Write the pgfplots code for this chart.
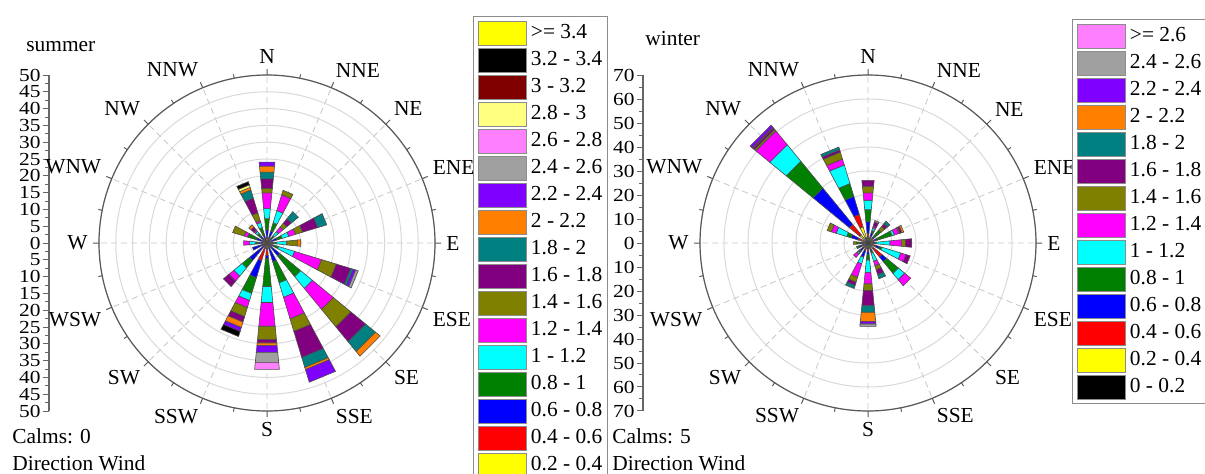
\documentclass[border=0pt]{standalone}
\usepackage{graphicx}
\usepackage{fontspec}
\setmainfont{Liberation Serif}
\newfontfamily\serf{Liberation Serif}
\usepackage{pgfplots}
\pgfplotsset{compat=1.18}
\usepgfplotslibrary{polar}

\definecolor{wc1}{RGB}{0,0,0}
\definecolor{wc2}{RGB}{255,255,0}
\definecolor{wc3}{RGB}{255,0,0}
\definecolor{wc4}{RGB}{0,0,255}
\definecolor{wc5}{RGB}{0,128,0}
\definecolor{wc6}{RGB}{0,255,255}
\definecolor{wc7}{RGB}{255,0,255}
\definecolor{wc8}{RGB}{128,128,0}
\definecolor{wc9}{RGB}{128,0,128}
\definecolor{wc10}{RGB}{0,128,128}
\definecolor{wc11}{RGB}{255,128,0}
\definecolor{wc12}{RGB}{128,0,255}
\definecolor{wc13}{RGB}{160,160,160}
\definecolor{wc14}{RGB}{255,128,255}
\definecolor{wc15}{RGB}{255,255,128}
\definecolor{wc16}{RGB}{128,0,0}
\definecolor{wc17}{RGB}{0,0,0}
\definecolor{wc18}{RGB}{255,255,0}

\newcommand\mainfontsize{\serf\fontsize{10.7}{12.8}\selectfont}
\tikzset{wedge/.style={draw=black!70, line width=0.3pt},
  dirlab/.style={inner sep=0pt, font=\mainfontsize}}

% #1 compass direction (deg, clockwise from N), #2 frequencies per speed class (inner to outer)
\newcommand\windbar[2]{%
  \pgfmathsetmacro\wa{90-#1}%
  \pgfmathsetmacro\wl{\wa-5.6}%
  \pgfmathsetmacro\wr{\wa+5.6}%
  \xdef\wcum{0}%
  \foreach \v [count=\k] in {#2} {%
    \pgfmathsetmacro\wnew{\wcum+\v}%
    \ifdim\v pt>0pt
      \edef\tmp{\noexpand\addplot[forget plot, wedge, fill=wc\k] coordinates {(\wl,\wcum) (\wl,\wnew) (\wr,\wnew) (\wr,\wcum)} -- cycle;}%
      \tmp
    \fi
    \xdef\wcum{\wnew}%
  }%
}

% compass labels, #1 = radius (data units) where the labels sit
\newcommand\compass[1]{%
  \node[dirlab, anchor=south] at (axis cs:90,#1) {N};
  \node[dirlab, anchor=south west] at (axis cs:67.5,#1) {NNE};
  \node[dirlab, anchor=south west] at (axis cs:45,#1) {NE};
  \node[dirlab, anchor=south west] at (axis cs:22.5,#1) {ENE};
  \node[dirlab, anchor=west] at (axis cs:0,#1) {E};
  \node[dirlab, anchor=north west] at (axis cs:-22.5,#1) {ESE};
  \node[dirlab, anchor=north west] at (axis cs:-45,#1) {SE};
  \node[dirlab, anchor=north west] at (axis cs:-67.5,#1) {SSE};
  \node[dirlab, anchor=north] at (axis cs:-90,#1) {S};
  \node[dirlab, anchor=north east] at (axis cs:-112.5,#1) {SSW};
  \node[dirlab, anchor=north east] at (axis cs:-135,#1) {SW};
  \node[dirlab, anchor=north east] at (axis cs:-157.5,#1) {WSW};
  \node[dirlab, anchor=east] at (axis cs:180,#1) {W};
  \node[dirlab, anchor=south east] at (axis cs:157.5,#1) {WNW};
  \node[dirlab, anchor=south east] at (axis cs:135,#1) {NW};
  \node[dirlab, anchor=south east] at (axis cs:112.5,#1) {NNW};
}

\pgfplotsset{
  every axis/.append style={font=\mainfontsize},
  rosestyle/.style={
    width=168pt, height=168pt, scale only axis, clip=false,
    ymin=0,
    yticklabels={}, ytick style={draw=none},
    xtick={0,22.5,...,337.5}, xticklabels={},
    minor xtick={11.25,33.75,...,348.75},
    xmajorgrids, ymajorgrids,
    x grid style={densely dashed, black!22, line width=0.4pt},
    y grid style={black!15, line width=0.5pt},
    separate axis lines,
    x axis line style={black!65, line width=0.6pt},
    y axis line style={draw=none},
    tick align=inside, major tick length=3pt, minor tick length=2pt,
    every tick/.style={black!65, line width=0.5pt},
    legend image code/.code={\draw[##1, draw=black!45, line width=0.5pt] (0pt,-6pt) rectangle (24pt,6pt);},
    legend cell align=left,
    legend style={anchor=north west, draw=black!45, line width=0.6pt, inner sep=2pt,
      row sep=1pt, font=\mainfontsize, nodes={inner sep=0.7pt},
      /tikz/every odd column/.append style={column sep=1.5pt}},
  },
  scalestyle/.style={
    width=1pt, height=168pt, scale only axis,
    xmin=0, xmax=1,
    axis y line*=left, axis x line=none,
    tick align=outside, major tick length=3pt, minor tick length=1.8pt,
    minor y tick num=1,
    axis line style={black!60, line width=0.6pt},
    every tick/.style={black!60, line width=0.5pt},
    yticklabel={\scalebox{1}[0.86]{\pgfmathparse{int(abs(\tick))}\pgfmathresult}},
    yticklabel style={font=\mainfontsize, inner sep=1pt},
  },
}

\begin{document}
\begin{tikzpicture}[font=\mainfontsize]
\useasboundingbox (0,0) rectangle (602.5pt,236.5pt);

% ---------------- summer ----------------
\begin{axis}[scalestyle, at={(24.5pt,115pt)}, anchor=west,
  ymin=-50, ymax=50, ytick={-50,-45,...,50}]
\addplot[draw=none] coordinates {(0,0)};
\end{axis}

\begin{polaraxis}[rosestyle, at={(133.5pt,115pt)}, anchor=center,
  ymax=50, ytick={5,10,...,50},
  legend style={at={(1.113,1.1756)}}]
\windbar{0}{0.4,0.4,0.7,2.4,3.4,3.0,4.7,1.3,2.9,2.0,1.8,1.2}
\windbar{22.5}{0.3,0.4,0.6,2.4,2.6,3.8,4.9,1.4}
\windbar{45}{0.2,0.3,0.4,0.8,1.0,1.7,1.8,1.4,1.8,2.7}
\windbar{67.5}{0.2,0.3,0.5,2.1,1.6,2.1,2.1,2.2,4.7,2.8}
\windbar{90}{0.2,0.3,0.4,1.0,1.0,3.0,0,3.2,0,0,1.0}
\windbar{112.5}{0.2,0.3,0.4,1.2,1.5,5.0,8.4,4.6,4.5,0.7,0,0.8,0.8}
\windbar{135}{0.3,0.4,0.6,3.7,8.0,4.5,8.1,6.7,5.7,3.8,1.8}
\windbar{157.5}{0.3,0.4,0.6,4.5,6.6,4.5,6.7,3.9,8.1,3.1,0.7,3.9}
\windbar{180}{0.4,0.4,3.0,0.8,8.4,4.8,7.1,4.0,1.0,0,0.8,2.0,3.0,2.1}
\windbar{202.5}{0.3,0.5,4.7,5.3,4.9,2.2,2.2,2.8,1.7,0,1.7,1.2,0,0,0,0,1.6}
\windbar{225}{0.3,0.4,0.6,5.5,2.8,3.2,1.9,0,2.1}
\windbar{247.5}{0.2,0.3,0.5,3.5}
\windbar{270}{0.3,0.4,0.5,1.5,0.8,1.7,1.8}
\windbar{292.5}{0.3,0.4,0.5,2.1,2.7,0,1.1,3.6}
\windbar{315}{0.3,0.4,0.5,1.5,1.0,0.8,0.5,0,1.2,0,0.8}
\windbar{337.5}{0.3,0.4,0.5,1.4,2.2,1.6,0.6,2.4,4.6,2.5,0.8,0,0,0,0.8,0,1.0}
\compass{53.3}
\addlegendimage{fill=wc18}\addlegendentry{>= 3.4}
\addlegendimage{fill=wc17}\addlegendentry{3.2 - 3.4}
\addlegendimage{fill=wc16}\addlegendentry{3 - 3.2}
\addlegendimage{fill=wc15}\addlegendentry{2.8 - 3}
\addlegendimage{fill=wc14}\addlegendentry{2.6 - 2.8}
\addlegendimage{fill=wc13}\addlegendentry{2.4 - 2.6}
\addlegendimage{fill=wc12}\addlegendentry{2.2 - 2.4}
\addlegendimage{fill=wc11}\addlegendentry{2 - 2.2}
\addlegendimage{fill=wc10}\addlegendentry{1.8 - 2}
\addlegendimage{fill=wc9}\addlegendentry{1.6 - 1.8}
\addlegendimage{fill=wc8}\addlegendentry{1.4 - 1.6}
\addlegendimage{fill=wc7}\addlegendentry{1.2 - 1.4}
\addlegendimage{fill=wc6}\addlegendentry{1 - 1.2}
\addlegendimage{fill=wc5}\addlegendentry{0.8 - 1}
\addlegendimage{fill=wc4}\addlegendentry{0.6 - 0.8}
\addlegendimage{fill=wc3}\addlegendentry{0.4 - 0.6}
\addlegendimage{fill=wc2}\addlegendentry{0.2 - 0.4}
\addlegendimage{fill=wc1}\addlegendentry{0 - 0.2}
\end{polaraxis}

\node[anchor=base west, inner sep=0pt] at (13pt,211pt) {summer};
\node[anchor=base west, inner sep=0pt] at (6pt,15pt) {Calms: 0};
\node[anchor=base west, inner sep=0pt] at (6pt,1.5pt) {Direction Wind};

% ---------------- winter ----------------
\begin{axis}[scalestyle, at={(321.5pt,115pt)}, anchor=west,
  ymin=-70, ymax=70, ytick={-70,-60,...,70}]
\addplot[draw=none] coordinates {(0,0)};
\end{axis}

\begin{polaraxis}[rosestyle, at={(434pt,115pt)}, anchor=center,
  ymax=70, ytick={10,20,...,70},
  legend style={at={(1.107,1.1667)}}]
\windbar{0}{2.0,0.8,1.2,4.9,5.1,3.9,3.1,2.75,2.5}
\windbar{22.5}{2.0,0.5,0.5,1.5,1.0,1.0,0.8,0,1.9,0,0,0,0.6}
\windbar{45}{2.0,0.5,0.5,0.8,3.2,0,0,2.0,1.5,1.3}
\windbar{67.5}{2.0,0.5,0.5,1.0,6.5,1.0,2.0,0.5,0.8,0,0.8}
\windbar{90}{2.0,0.5,0.4,0.3,0.3,5.7,4.8,1.7,2.5}
\windbar{112.5}{2.0,0.5,1.0,1.5,1.1,8.2,2.3,0,1.8}
\windbar{135}{2.0,1.0,4.6,2.5,6.3,3.4,3.3}
\windbar{157.5}{2.0,0.5,0.5,0.7,0.8,3.5,2.0,1.7,2.1,1.8}
\windbar{180}{2.0,0.5,1.0,1.5,2.1,5.3,4.7,2.8,6.35,2.75,3.9,1.0,1.0}
\windbar{202.5}{2.0,0.5,0.8,2.9,0,2.9,5.8,2.2,1.4,1.3}
\windbar{225}{2.0,0.5,0.5,1.5,0.8,0.7,1.8}
\windbar{247.5}{2.0,0.5,0.5,0.8,1.2}
\windbar{270}{2.0,0.4,0.4,0.8,1.2,0,0,1.3}
\windbar{292.5}{2.0,0.8,1.5,3.1,1.9,4.6,2.1,1.8}
\windbar{315}{1.5,3.0,5.5,19.6,14.5,8.9,7.5,0.8,0.8,0,0.4,1.1}
\windbar{337.5}{2.5,4.5,5.5,7.8,5.6,8.1,2.6,3.0,1.0,1.2}
\compass{74.6}
\addlegendimage{fill=wc14}\addlegendentry{>= 2.6}
\addlegendimage{fill=wc13}\addlegendentry{2.4 - 2.6}
\addlegendimage{fill=wc12}\addlegendentry{2.2 - 2.4}
\addlegendimage{fill=wc11}\addlegendentry{2 - 2.2}
\addlegendimage{fill=wc10}\addlegendentry{1.8 - 2}
\addlegendimage{fill=wc9}\addlegendentry{1.6 - 1.8}
\addlegendimage{fill=wc8}\addlegendentry{1.4 - 1.6}
\addlegendimage{fill=wc7}\addlegendentry{1.2 - 1.4}
\addlegendimage{fill=wc6}\addlegendentry{1 - 1.2}
\addlegendimage{fill=wc5}\addlegendentry{0.8 - 1}
\addlegendimage{fill=wc4}\addlegendentry{0.6 - 0.8}
\addlegendimage{fill=wc3}\addlegendentry{0.4 - 0.6}
\addlegendimage{fill=wc2}\addlegendentry{0.2 - 0.4}
\addlegendimage{fill=wc1}\addlegendentry{0 - 0.2}
\end{polaraxis}

\node[anchor=base west, inner sep=0pt] at (322.5pt,214pt) {winter};
\node[anchor=base west, inner sep=0pt] at (306pt,15pt) {Calms: 5};
\node[anchor=base west, inner sep=0pt] at (306pt,1.5pt) {Direction Wind};
\end{tikzpicture}
\end{document}
